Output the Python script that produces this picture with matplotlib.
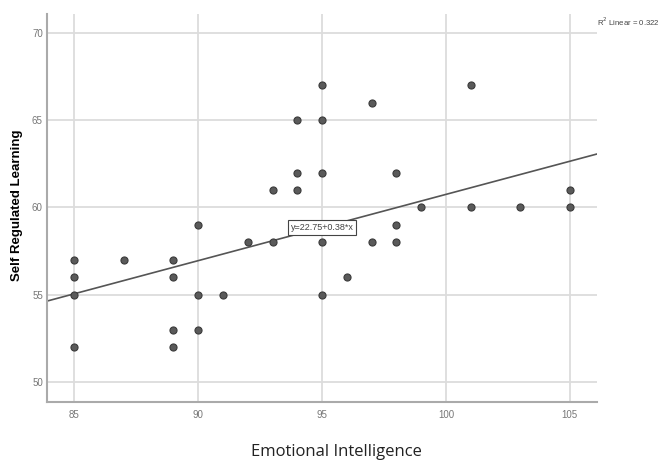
import numpy as np
import matplotlib
matplotlib.use("Agg")
import matplotlib.pyplot as plt

# data
ei = [85, 85, 85, 85, 87, 89, 89, 89, 89, 90, 90, 90, 91, 92, 93, 93,
      94, 94, 94, 95, 95, 95, 95, 95, 96, 97, 97, 98, 98, 98, 99, 101,
      101, 103, 105, 105]
srl = [57, 56, 55, 52, 57, 57, 56, 53, 52, 59, 55, 53, 55, 58, 61, 58,
       65, 62, 61, 67, 65, 62, 58, 55, 56, 66, 58, 62, 59, 58, 60, 67,
       60, 60, 61, 60]
intercept = 22.75
slope = 0.38
r2 = 0.322
xticks = [85, 90, 95, 100, 105]
yticks = [50, 55, 60, 65, 70]

plt.rcParams['font.family'] = ['Liberation Sans', 'DejaVu Sans']

fig = plt.figure(figsize=(6.62, 4.62), dpi=100)
ax = fig.add_axes([0.071, 0.13, 0.831, 0.84])

ax.set_xlim(83.9, 106.1)
ax.set_ylim(48.85, 71.1)
ax.set_xticks(xticks)
ax.set_yticks(yticks)
ax.grid(True, color='#dcdcdc', linewidth=1.3)
ax.set_axisbelow(True)
ax.tick_params(length=0, labelsize=7, colors='#777777')
ax.tick_params(axis='y', pad=3)
ax.tick_params(axis='x', pad=6)

for s in ['top', 'right']:
    ax.spines[s].set_visible(False)
for s in ['left', 'bottom']:
    ax.spines[s].set_color('#aaaaaa')
    ax.spines[s].set_linewidth(1.5)

ax.scatter(ei, srl, s=26, color='#5a5a5a', edgecolor='#3a3a3a',
           linewidth=0.8, zorder=3)

xs = np.array(ax.get_xlim())
ax.plot(xs, intercept + slope * xs, color='#555555', linewidth=1.2, zorder=2)

ax.text(95, intercept + slope * 95, 'y=22.75+0.38*x', fontsize=6.5,
        color='#444444', ha='center', va='center', zorder=4,
        bbox=dict(boxstyle='square,pad=0.3', fc='white', ec='#444444', lw=0.8))

fig.text(17 / 662, 1 - 205 / 462, 'Self Regulated Learning', fontsize=9.5,
         fontweight='bold', rotation=90, ha='center', va='center')
fig.text(0.508, 0.022, 'Emotional Intelligence', fontsize=12, color='#222222',
         family=['Open Sans', 'DejaVu Sans'], ha='center', va='center')
fig.text(597 / 662, 0.952, 'R$^2$ Linear = %.3f' % r2, fontsize=5.6,
         color='#444444', ha='left', va='center')

fig.savefig('out.png', dpi=100)
